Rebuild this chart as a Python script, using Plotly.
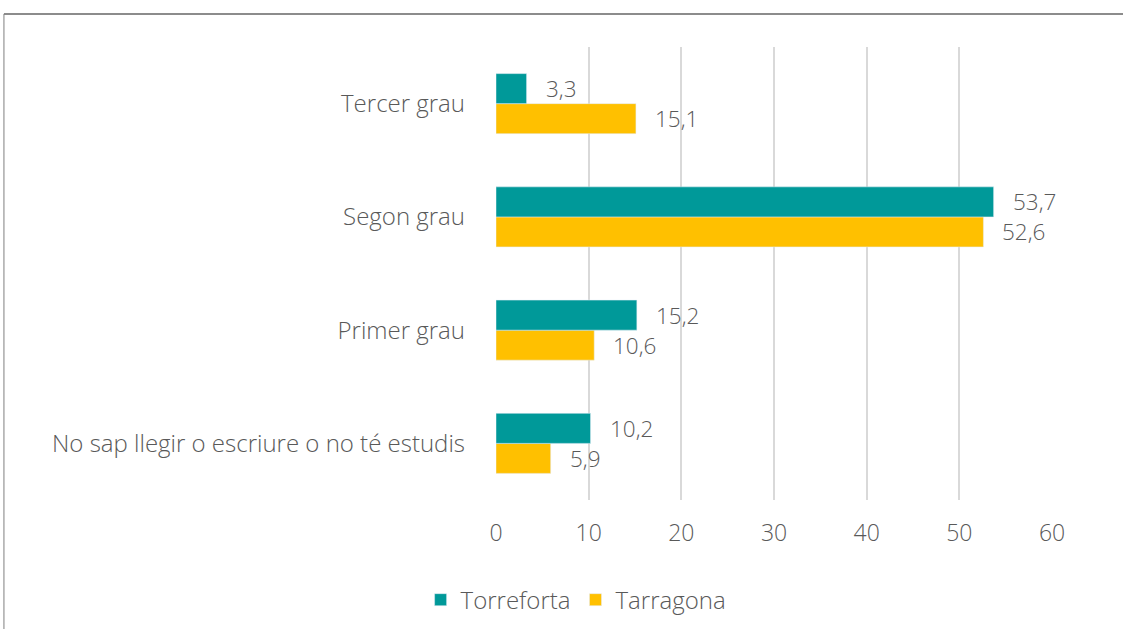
import plotly.graph_objects as go

categories = ["No sap llegir o escriure o no té estudis", "Primer grau", "Segon grau", "Tercer grau"]
torreforta = [10.2, 15.2, 53.7, 3.3]
tarragona = [5.9, 10.6, 52.6, 15.1]
series_names = ["Torreforta", "Tarragona"]
colors = ["#009999", "#FFC000"]
x_ticks = [0, 10, 20, 30, 40, 50, 60]

FONT = "Open Sans"
GRAY = "#595959"

fig = go.Figure()
# Tarragona first so that it appears below Torreforta within each group
fig.add_trace(go.Bar(y=categories, x=tarragona, name=series_names[1], orientation="h",
                     marker=dict(color=colors[1])))
fig.add_trace(go.Bar(y=categories, x=torreforta, name=series_names[0], orientation="h",
                     marker=dict(color=colors[0])))

def fmt(v):
    return f"{v:.1f}".replace(".", ",")

annotations = []
for cat, v in zip(categories, torreforta):
    annotations.append(dict(x=v, y=cat, text=fmt(v), xanchor="left", yanchor="middle",
                            xshift=17, yshift=15, showarrow=False,
                            font=dict(family=FONT, size=22.5, color=GRAY, weight=300)))
for cat, v in zip(categories, tarragona):
    annotations.append(dict(x=v, y=cat, text=fmt(v), xanchor="left", yanchor="middle",
                            xshift=17, yshift=-15, showarrow=False,
                            font=dict(family=FONT, size=22.5, color=GRAY, weight=300)))

fig.update_layout(
    width=1123, height=629,
    margin=dict(l=496, r=71, t=47, b=129, autoexpand=False),
    plot_bgcolor="white", paper_bgcolor="white",
    barmode="group", bargap=0.47, bargroupgap=0,
    font=dict(family=FONT, color=GRAY, size=22, weight=300),
    xaxis=dict(range=[0, 60], tickvals=x_ticks, showgrid=True, gridcolor="#d9d9d9",
               gridwidth=2, zeroline=False, showline=False, ticks="", automargin=False,
               ticklabelstandoff=17,
               tickfont=dict(family=FONT, size=23, color=GRAY, weight=300)),
    yaxis=dict(categoryorder="array", categoryarray=categories, showgrid=False,
               showline=False, ticks="", ticklabelstandoff=30, automargin=False,
               tickfont=dict(family=FONT, size=24, color=GRAY, weight=300)),
    legend=dict(orientation="h", x=0.513, xanchor="center", xref="container",
                y=0.046, yanchor="middle", yref="container", traceorder="reversed",
                font=dict(family=FONT, size=24, color=GRAY, weight=300)),
    annotations=annotations,
    shapes=[
        dict(type="line", xref="paper", yref="paper", x0=-0.885, x1=1.2,
             y0=1.0728, y1=1.0728, line=dict(color="#8c8c8c", width=2)),
        dict(type="line", xref="paper", yref="paper", x0=-0.885, x1=-0.885,
             y0=1.0728, y1=-0.4, line=dict(color="#7f7f7f", width=1)),
    ],
)

fig.write_html("out.html", config={"displayModeBar": False},
               post_script="document.body.style.margin='0px';")
